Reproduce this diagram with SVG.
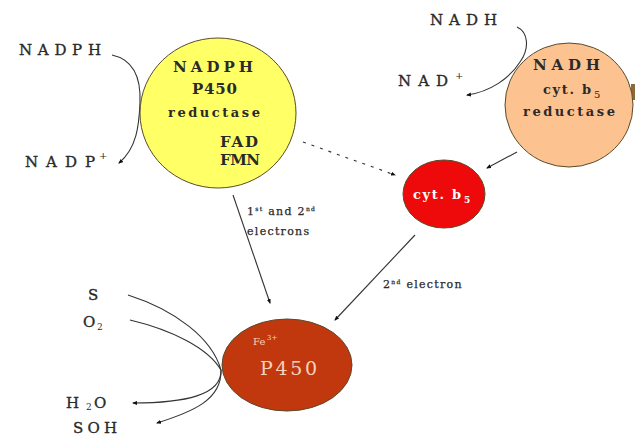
<svg xmlns="http://www.w3.org/2000/svg" width="635" height="438" viewBox="0 0 635 438">
<defs>
<marker id="ah" viewBox="0 0 10 10" refX="8" refY="5" markerWidth="5" markerHeight="5" orient="auto" markerUnits="userSpaceOnUse">
<path d="M0,1 L10,5 L0,9 Z" fill="#111"/>
</marker>
</defs>
<style>
text{font-family:"DejaVu Serif","Liberation Serif",serif;fill:#2a2a2a}
.lbl{font-size:15px;stroke:#2a2a2a;stroke-width:0.35}
.in{font-size:15px;font-weight:bold}
.rd{font-size:13px;font-weight:bold}
.sm{font-size:10px}
.el{font-size:11px;stroke:#2a2a2a;stroke-width:0.25;letter-spacing:1.3px}
.w{fill:#fff;font-weight:bold}
.pw{fill:#f6d2bd}
.con{fill:none;stroke:#333;stroke-width:1.1}
.node{stroke:#5a4a2a;stroke-width:1}
</style>
<rect width="635" height="438" fill="#fff"/>
<rect x="631" y="84" width="4" height="16" fill="#8a6a3a"/>
<g id="connectors">
<path class="con" d="M112,55 C135,60 141,80 140,103 C139,125 137,148 119,163" marker-end="url(#ah)"/>
<path class="con" d="M517,27 C528,32 530,48 520,62 C510,78 490,92 467,95" marker-end="url(#ah)"/>
<path class="con" d="M303,142 L395,175" stroke-dasharray="3,6" stroke="#777" marker-end="url(#ah)"/>
<path class="con" d="M517,152 L487,168" marker-end="url(#ah)"/>
<path class="con" d="M233,195 L270,303" marker-end="url(#ah)"/>
<path class="con" d="M415,235 L335,320" marker-end="url(#ah)"/>
<path class="con" d="M128,295 C175,310 212,338 221,370"/>
<path class="con" d="M130,320 C172,330 208,348 221,370"/>
<path class="con" d="M221,370 C222,395 185,403 133,403" marker-end="url(#ah)"/>
<path class="con" d="M221,370 C222,400 192,412 157,423" marker-end="url(#ah)"/>
</g>
<g id="nadph-reductase">
<ellipse class="node" cx="218" cy="113" rx="78" ry="75" fill="#ffff66"/>
<text class="in" x="173" y="72" textLength="80">NADPH</text>
<text class="in" x="192" y="94" textLength="45">P450</text>
<text class="rd" x="168" y="117" textLength="92">reductase</text>
<text class="in" x="220" y="147" textLength="38">FAD</text>
<text class="in" x="220" y="165" textLength="40">FMN</text>
</g>
<g id="nadh-reductase">
<ellipse class="node" cx="569" cy="105" rx="64" ry="62" fill="#fcc290"/>
<text class="in" x="533" y="70" textLength="67">NADH</text>
<text class="rd" x="543" y="94" textLength="48">cyt. b</text>
<text class="sm" x="594" y="98">5</text>
<text class="rd" x="523" y="116" textLength="92">reductase</text>
</g>
<g id="cytb5">
<ellipse class="node" cx="444" cy="194" rx="41" ry="34" fill="#ee0a0a"/>
<text class="w" x="413" y="199" font-size="13" textLength="48">cyt. b</text>
<text class="w" x="464" y="203" font-size="9">5</text>
</g>
<g id="p450">
<ellipse class="node" cx="287" cy="365" rx="65" ry="46" fill="#c2380e"/>
<text class="pw" x="253" y="345" font-size="10">Fe</text>
<text class="pw" x="267" y="340" font-size="7">3+</text>
<text class="pw" x="260" y="375" font-size="19" textLength="57">P450</text>
</g>
<g id="labels">
<text class="lbl" x="19" y="55" textLength="82">NADPH</text>
<text class="lbl" x="25" y="167" textLength="70">NADP</text>
<text class="sm" x="99" y="159">+</text>
<text class="lbl" x="430" y="25" textLength="67">NADH</text>
<text class="lbl" x="398" y="86" textLength="50">NAD</text>
<text class="sm" x="455" y="79">+</text>
<text class="el" x="247" y="215">1<tspan dy="-4" font-size="6">st</tspan><tspan dy="4"> and 2</tspan><tspan dy="-4" font-size="6">nd</tspan></text>
<text class="el" x="247" y="235">electrons</text>
<text class="el" x="383" y="288">2<tspan dy="-4" font-size="6">nd</tspan><tspan dy="4"> electron</tspan></text>
<text class="lbl" x="88" y="300" font-size="13">S</text>
<text class="lbl" x="83" y="327">O</text>
<text x="97" y="330" font-size="9">2</text>
<text class="lbl" x="66" y="408">H</text>
<text x="86" y="410" font-size="9">2</text>
<text class="lbl" x="94" y="408">O</text>
<text class="lbl" x="73" y="433" textLength="44">SOH</text>
</g>
</svg>
